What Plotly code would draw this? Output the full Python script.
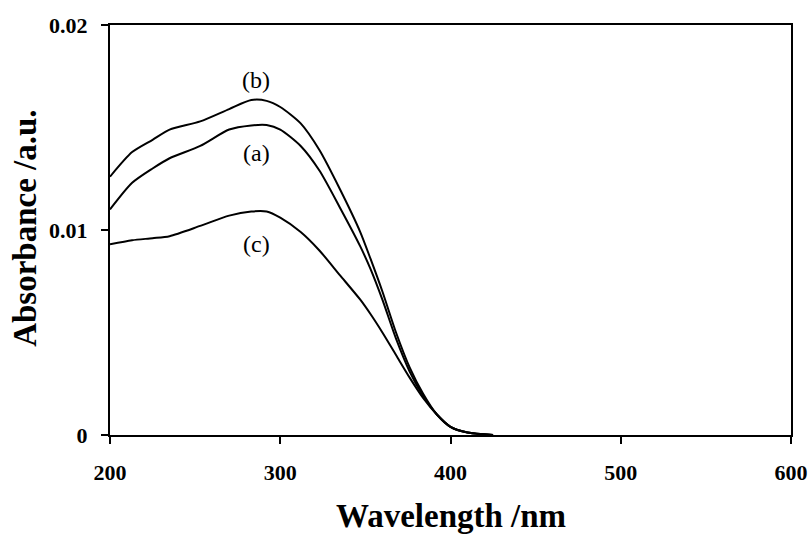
import plotly.graph_objects as go

# Wavelength grid (nm) and absorbance of the three samples
wavelength = [200, 213, 225, 235, 253, 270, 283, 292, 300, 312, 323, 335,
              347, 353, 360, 368, 376, 384, 392, 400, 410, 425]
absorb_a = [0.0110, 0.0123, 0.0130, 0.0135, 0.0141, 0.0149, 0.0151, 0.01512,
            0.0149, 0.0141, 0.0129, 0.0111, 0.0092, 0.0081, 0.0066, 0.0047,
            0.0031, 0.0019, 0.0010, 0.0004, 0.00012, 0.0]
absorb_b = [0.0126, 0.0138, 0.0144, 0.0149, 0.0153, 0.0159, 0.01634, 0.0163,
            0.0160, 0.0152, 0.0139, 0.0120, 0.0099, 0.0086, 0.0070, 0.0050,
            0.0033, 0.0020, 0.0010, 0.0004, 0.00012, 0.0]
absorb_c = [0.0093, 0.0095, 0.0096, 0.0097, 0.0102, 0.0107, 0.0109, 0.0109,
            0.0106, 0.0099, 0.0090, 0.0078, 0.0066, 0.0059, 0.0050, 0.0039,
            0.0028, 0.0018, 0.0010, 0.0004, 0.00012, 0.0]

# Curve labels: (text, wavelength, absorbance)
curve_labels = [("(b)", 286, 0.01732), ("(a)", 286, 0.01376), ("(c)", 286, 0.00932)]

x_ticks = [200, 300, 400, 500, 600]
y_ticks = [0, 0.01, 0.02]
y_tick_text = ["0", "0.01", "0.02"]

SERIF = "Liberation Serif, Times New Roman, serif"

fig = go.Figure()
for ys in (absorb_a, absorb_b, absorb_c):
    fig.add_trace(go.Scatter(
        x=wavelength, y=ys, mode="lines",
        line=dict(color="black", width=2, shape="spline", smoothing=0.7),
        showlegend=False, hoverinfo="skip",
    ))

for text, lx, ly in curve_labels:
    fig.add_annotation(x=lx, y=ly, text=text, showarrow=False,
                       font=dict(family=SERIF, size=24, color="black"),
                       xanchor="center", yanchor="middle")

# Axis titles
fig.add_annotation(xref="paper", yref="paper", x=0.5, y=-0.198,
                   text="<b>Wavelength /nm</b>", showarrow=False,
                   font=dict(family=SERIF, size=33, color="black"),
                   xanchor="center", yanchor="middle")
fig.add_annotation(xref="paper", yref="paper", x=-0.125, y=0.505,
                   text="<b>Absorbance /a.u.</b>", showarrow=False, textangle=-90,
                   font=dict(family=SERIF, size=33, color="black"),
                   xanchor="center", yanchor="middle")

axis_common = dict(
    showline=True, linecolor="black", linewidth=2, mirror=True,
    ticks="outside", ticklen=7, tickwidth=2, tickcolor="black",
    showgrid=False, zeroline=False, automargin=False,
    tickfont=dict(family=SERIF, size=22, color="black"),
)

fig.update_xaxes(range=[200, 600], tickvals=x_ticks,
                 ticktext=[f"<b>{v}</b>" for v in x_ticks],
                 ticklabelstandoff=10, **axis_common)
fig.update_yaxes(range=[0, 0.02], tickvals=y_ticks,
                 ticktext=[f"<b>{t}</b>" for t in y_tick_text],
                 ticklabelstandoff=9, **axis_common)

fig.update_layout(
    width=811, height=537,
    margin=dict(l=110, r=20, t=25, b=102),
    paper_bgcolor="white", plot_bgcolor="white",
)

fig.write_html("out.html")
